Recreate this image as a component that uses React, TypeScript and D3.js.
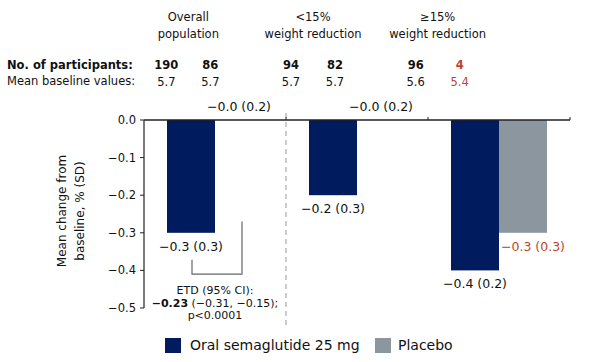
import React from 'react';
import * as d3 from 'd3';

const groupKeys = ['overall', 'lt15', 'ge15'];
const groupTitles = [
  ['Overall', 'population'],
  ['<15%', 'weight reduction'],
  ['\u226515%', 'weight reduction'],
];
const semaValues = [-0.3, -0.2, -0.4];
const semaSD = [0.3, 0.3, 0.2];
const placeboValues = [-0.0, -0.0, -0.3];
const placeboSD = [0.2, 0.2, 0.3];
const semaN = [190, 94, 96];
const placeboN = [86, 82, 4];
const semaBaseline = ['5.7', '5.7', '5.6'];
const placeboBaseline = ['5.7', '5.7', '5.4'];
const yTicks = [0, -0.1, -0.2, -0.3, -0.4, -0.5];
const series = ['Oral semaglutide 25 mg', 'Placebo'];

const NAVY = '#001b5e';
const GREY = '#8c969f';
const RED = '#c0452b';
const FONT = 'DejaVu Sans, Verdana, sans-serif';

const W = 600;
const H = 362;

// bar labels keep the sign even for -0.0, tick labels do not
const fmt = (v: number) => (v <= 0 ? '\u2212' : '') + Math.abs(v).toFixed(1);
const tickFmt = (v: number) => (v < 0 ? '\u2212' : '') + Math.abs(v).toFixed(1);
const lab = (v: number, sd: number) => `${fmt(v)} (${sd.toFixed(1)})`;

export default function App() {
  const x = d3.scaleBand().domain(groupKeys).range([144, 570]).paddingInner(0).paddingOuter(0);
  const y = d3.scaleLinear().domain([-0.5, 0]).range([308, 120]);
  const barW = 48;
  // header columns sit a little left of the bars, like the original slide
  const hx = d3.scaleBand().domain(groupKeys).range([126, 500]);
  const hsub = 22;

  const rows = groupKeys.map((k, i) => {
    const c = (x(k) as number) + x.bandwidth() / 2;
    return { k, i, c, sx: c - barW, px: c };
  });

  return (
    <svg width={W} height={H} style={{ position: 'absolute', left: 0, top: 0, background: '#fff' }} fontFamily={FONT}>
      {/* header */}
      <text x={7} y={69} fontSize={11.5} fontWeight="bold" fill="#111">No. of participants:</text>
      <text x={7} y={85} fontSize={11.5} fill="#111">Mean baseline values:</text>
      {groupKeys.map((k, i) => {
        const c = (hx(k) as number) + hx.bandwidth() / 2;
        return (
          <g key={k} fontSize={11.5} textAnchor="middle" fill="#111">
            <text x={c} y={21}>{groupTitles[i][0]}</text>
            <text x={c} y={38}>{groupTitles[i][1]}</text>
            <text x={c - hsub} y={69} fontWeight="bold">{semaN[i]}</text>
            <text x={c + hsub} y={69} fontWeight="bold" fill={placeboN[i] < 10 ? RED : '#111'}>{placeboN[i]}</text>
            <text x={c - hsub} y={86}>{semaBaseline[i]}</text>
            <text x={c + hsub} y={86} fill={i === 2 ? RED : '#111'}>{placeboBaseline[i]}</text>
          </g>
        );
      })}

      {/* bars */}
      {rows.map(r => (
        <g key={r.k}>
          <rect x={r.sx} y={y(0)} width={barW} height={y(semaValues[r.i]) - y(0)} fill={NAVY} />
          <rect x={r.px} y={y(0)} width={barW} height={Math.max(0, y(placeboValues[r.i]) - y(0))} fill={GREY} />
        </g>
      ))}

      {/* separator */}
      <line x1={x('lt15') as number} x2={x('lt15') as number} y1={113} y2={326} stroke="#aaa" strokeDasharray="5,4" strokeWidth={1.2} />

      {/* axes */}
      <line x1={144} x2={144} y1={120} y2={308} stroke="#222" strokeWidth={1.2} />
      <line x1={144} x2={570} y1={120} y2={120} stroke="#222" strokeWidth={1.5} />
      {groupKeys.slice(1).concat(['end']).map((k, i) => {
        const xx = k === 'end' ? 570 : (x(k) as number);
        return <line key={i} x1={xx} x2={xx} y1={120} y2={117} stroke="#222" />;
      })}
      {yTicks.map(t => (
        <g key={t}>
          <line x1={140} x2={144} y1={y(t)} y2={y(t)} stroke="#222" />
          <text x={136} y={y(t) + 4} fontSize={11.5} textAnchor="end" fill="#111">{tickFmt(t)}</text>
        </g>
      ))}
      <text transform="translate(66,211) rotate(-90)" fontSize={12} textAnchor="middle" fill="#111">Mean change from</text>
      <text transform="translate(84,211) rotate(-90)" fontSize={12} textAnchor="middle" fill="#111">baseline, % (SD)</text>

      {/* value labels */}
      {rows.map(r => {
        const sv = semaValues[r.i];
        const pv = placeboValues[r.i];
        const pc = r.px + barW / 2;
        return (
          <g key={r.k} fontSize={12.5} fill="#111">
            <text x={r.sx + barW / 2} y={y(sv) + 18} textAnchor="middle">{lab(sv, semaSD[r.i])}</text>
            {pv === 0 ? (
              <text x={pc} y={111} textAnchor="middle">{lab(pv, placeboSD[r.i])}</text>
            ) : (
              <text x={r.px + 2} y={y(pv) + 18} textAnchor="start" fill={RED}>{lab(pv, placeboSD[r.i])}</text>
            )}
          </g>
        );
      })}

      {/* ETD bracket */}
      {(() => {
        const r = rows[0];
        const lx = r.sx + barW / 2 + 1;
        const rx = r.px + barW / 2 + 3;
        const by = y(-0.41);
        return (
          <g>
            <path d={`M${lx},${y(semaValues[0]) + 27}V${by}H${rx}V${y(-0.27)}`} fill="none" stroke="#666" strokeWidth={1.2} />
            <g fontSize={11} textAnchor="middle" fill="#111">
              <text x={r.c} y={294}>ETD (95% CI):</text>
              <text x={r.c} y={306.5}><tspan fontWeight="bold">{'\u22120.23'}</tspan>{' (\u22120.31, \u22120.15);'}</text>
              <text x={r.c} y={319}>p&lt;0.0001</text>
            </g>
          </g>
        );
      })()}

      {/* legend */}
      <rect x={165} y={338} width={16} height={15} fill={NAVY} />
      <text x={190} y={350} fontSize={14} fill="#111">{series[0]}</text>
      <rect x={375} y={338} width={16} height={15} fill={GREY} />
      <text x={398} y={350} fontSize={14} fill="#111">{series[1]}</text>
    </svg>
  );
}
